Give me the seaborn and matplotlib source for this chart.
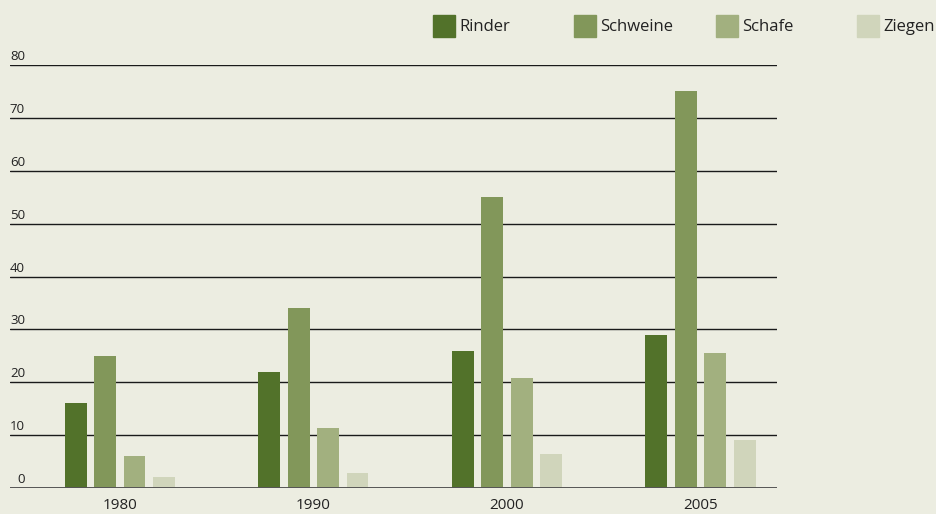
import matplotlib.pyplot as plt
import matplotlib.patches as mpatches
import numpy as np
import pandas as pd
import seaborn as sns

# data
jahre = ["1980", "1990", "2000", "2005"]
tiere = ["Rinder", "Schweine", "Schafe", "Ziegen"]
rinder = [16, 22, 26, 29]
schweine = [25, 34, 55, 75]
schafe = [6, 11.3, 20.8, 25.5]
ziegen = [2, 2.8, 6.4, 9.1]
y_ticks = [0, 10, 20, 30, 40, 50, 60, 70, 80]

farben = ["#52722A", "#82975A", "#A2B07F", "#D0D5BB"]
bg = "#ECEDE1"

df = pd.DataFrame({
    "Jahr": jahre * 4,
    "Tier": np.repeat(tiere, len(jahre)),
    "Wert": rinder + schweine + schafe + ziegen,
})

sns.set_theme(style="white")
plt.rcParams["font.family"] = ["Open Sans", "DejaVu Sans"]

fig = plt.figure(figsize=(9.37, 5.14), dpi=100, facecolor=bg)
W, H = 937, 514
ax = fig.add_axes([10 / W, 26 / H, 767 / W, (488 - 65) / H])
ax.set_facecolor(bg)

sns.barplot(
    data=df, x="Jahr", y="Wert", hue="Tier", order=jahre, hue_order=tiere,
    palette=farben, saturation=1, width=0.608, gap=0.255,
    linewidth=0, legend=False, ax=ax, zorder=3,
)

ax.set_xlim(-0.567, 3.395)
ax.set_ylim(0, 80)
ax.set_yticks(y_ticks)
ax.set_yticklabels([])
ax.tick_params(axis="y", length=0)
ax.tick_params(axis="x", length=0, pad=7, labelsize=11, labelcolor="#222222")
ax.set_xlabel("")
ax.set_ylabel("")
for s in ax.spines.values():
    s.set_visible(False)

# horizontal rules behind the bars
for v in y_ticks[1:]:
    ax.axhline(v, color="#1a1a1a", lw=1.0, zorder=1)
ax.axhline(0, color="#555555", lw=1.4, zorder=4)

# y labels sit above their rule
for v in y_ticks:
    ax.annotate(str(v), xy=(0, v), xycoords=ax.get_yaxis_transform(),
                xytext=(15, 2), textcoords="offset pixels",
                ha="right", va="bottom", fontsize=9.5, color="#222222")

# legend, one entry at a time so the spacing stays fixed
leg_x = [433, 574, 716, 857]
for x, name, c in zip(leg_x, tiere, farben):
    leg = fig.legend(
        handles=[mpatches.Patch(color=c)], labels=[name],
        loc="upper left", bbox_to_anchor=(x / W, 1 - 15 / H),
        frameon=False, fontsize=12, handlelength=1.32, handleheight=1.62,
        handletextpad=0.24, borderpad=0, borderaxespad=0,
    )
    for t in leg.get_texts():
        t.set_color("#222222")

fig.savefig("out.png", dpi=100, facecolor=bg)
